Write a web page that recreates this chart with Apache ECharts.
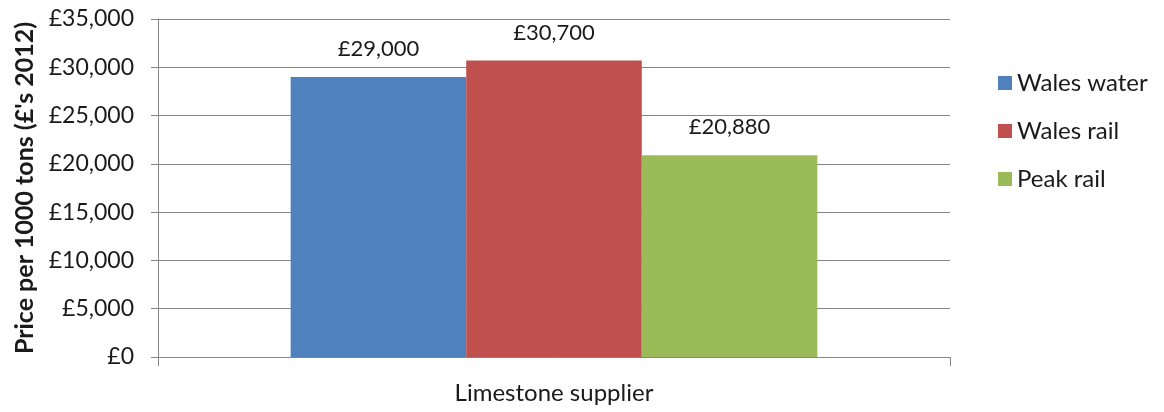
<!DOCTYPE html>
<html>
<head>
<meta charset="utf-8">
<script src="https://cdn.jsdelivr.net/npm/echarts@6/dist/echarts.min.js"></script>
<style>
html, body { margin: 0; padding: 0; background: #fff; }
#chart { width: 1164px; height: 412px; }
</style>
</head>
<body>
<div id="chart"></div>
<script>
const categories = ['Limestone supplier'];
const seriesNames = ['Wales water', 'Wales rail', 'Peak rail'];
const seriesValues = [[29000], [30700], [20880]];
const colors = ['#4F81BD', '#C0504D', '#9BBB59'];

const font = 'Lato, "Open Sans", sans-serif';
const fmt = v => '£' + v.toLocaleString('en-GB');

const chart = echarts.init(document.getElementById('chart'));

const option = {
    animation: false,
    textStyle: { fontFamily: font },
    grid: { left: 158, top: 19, right: 214, bottom: 55 },
    legend: {
        orient: 'vertical',
        left: 993,
        top: 66,
        itemWidth: 14,
        itemHeight: 14,
        itemGap: 24,
        icon: 'rect',
        textStyle: { fontSize: 24, color: '#1a1a1a', fontFamily: font },
        data: seriesNames
    },
    xAxis: {
        type: 'category',
        data: categories,
        axisLine: { lineStyle: { color: '#868686' } },
        axisTick: { show: true, length: 9, alignWithLabel: false, lineStyle: { color: '#868686' } },
        axisLabel: { fontSize: 24, color: '#1a1a1a', margin: 24 }
    },
    yAxis: {
        type: 'value',
        min: 0,
        max: 35000,
        interval: 5000,
        name: 'Price per 1000 tons (£\'s 2012)',
        nameLocation: 'middle',
        nameGap: 120,
        nameTextStyle: { fontSize: 25, fontWeight: 'bold', color: '#1a1a1a' },
        axisLine: { show: true, lineStyle: { color: '#868686' } },
        axisTick: { show: true, length: 7, lineStyle: { color: '#868686' } },
        axisLabel: { fontSize: 23, color: '#1a1a1a', margin: 24, formatter: fmt },
        splitLine: { lineStyle: { color: '#868686' } }
    },
    series: seriesNames.map((name, i) => ({
        name: name,
        type: 'bar',
        data: seriesValues[i],
        barGap: '0%',
        barCategoryGap: '33.5%',
        itemStyle: { color: colors[i] },
        label: {
            show: true,
            position: 'top',
            distance: 17,
            fontSize: 22,
            color: '#1a1a1a',
            formatter: p => fmt(p.value)
        }
    }))
};

chart.setOption(option);

window.addEventListener('resize', function () {
    chart.resize();
});
</script>
</body>
</html>
